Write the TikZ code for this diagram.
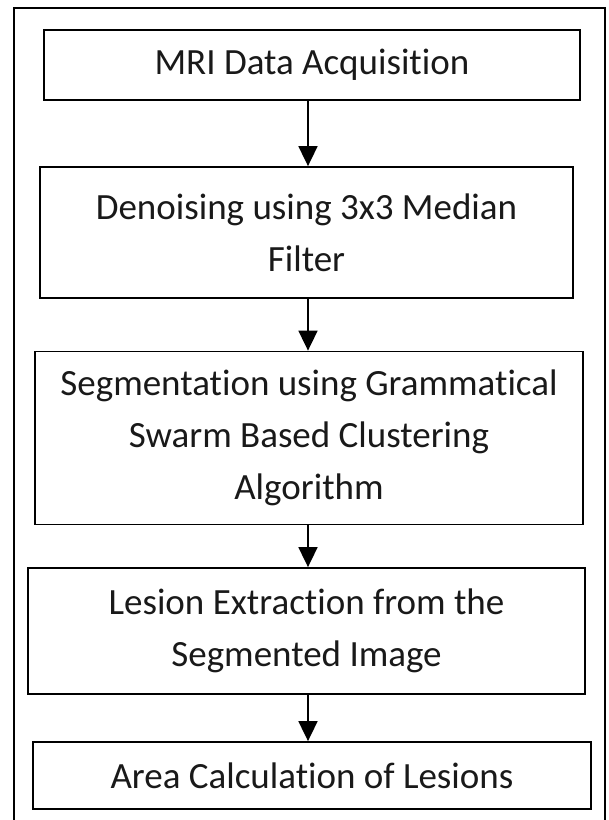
\documentclass[tikz,border=0pt]{standalone}
\usepackage{fontspec}
\setmainfont{Carlito}[Ligatures=NoCommon]
\usetikzlibrary{positioning,arrows.meta}
\tikzstyle{stepbox}=[draw,line width=1.8pt,align=center,inner sep=0pt,
  font=\fontsize{37}{52}\selectfont,text=black!90]
\tikzstyle{flow}=[-{Triangle[width=19pt,length=20pt]},line width=1.8pt]
\newcommand{\newStep}[5]{\node[stepbox,minimum width=#3,minimum height=#4](#1) at #5 {#2};}
\newcommand{\newFlow}[2]{\draw[flow] ([xshift=-4pt]#1.south -| acq.south) -- ([xshift=-4pt]#2.north -| acq.south);}

\begin{document}
\begin{tikzpicture}[x=1pt,y=-1pt]
  \useasboundingbox (0,0) rectangle (609,820);
  % open frame round the steps
  \draw[line width=1.8pt] (14,820) -- (14,8) -- (605,8) -- (605,820);

  \newStep{acq}{MRI Data Acquisition}{536pt}{70pt}{(312,65)}
  \newStep{den}{Denoising using 3x3 Median\\Filter}{533pt}{131pt}{(306.5,232.5)}
  \newStep{seg}{Segmentation using Grammatical\\Swarm Based Clustering\\Algorithm}{548pt}{173pt}{(309,438)}
  \newStep{les}{Lesion Extraction from the\\Segmented Image}{557pt}{126pt}{(306.5,631)}
  \newStep{area}{Area Calculation of Lesions}{558pt}{67pt}{(312,775.5)}

  \newFlow{acq}{den}
  \newFlow{den}{seg}
  \newFlow{seg}{les}
  \newFlow{les}{area}
\end{tikzpicture}
\end{document}
